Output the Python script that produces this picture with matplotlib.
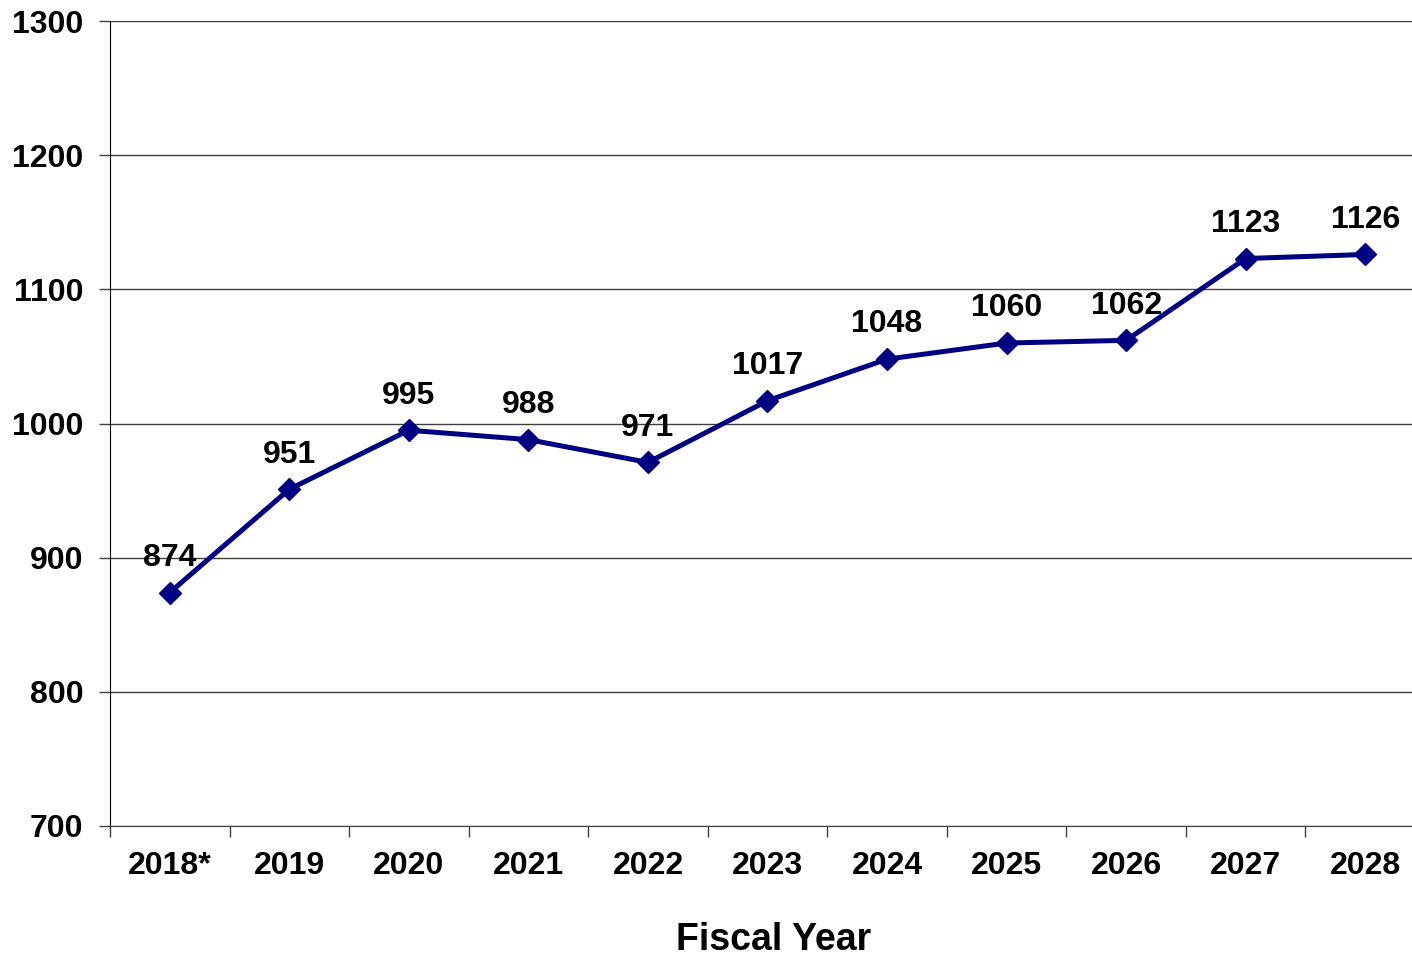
import matplotlib.pyplot as plt

years = ['2018*', '2019', '2020', '2021', '2022', '2023', '2024', '2025', '2026', '2027', '2028']
values = [874, 951, 995, 988, 971, 1017, 1048, 1060, 1062, 1123, 1126]

LINE_COLOR = '#000080'
GRID_COLOR = '#404040'

plt.rcParams['font.family'] = ['Liberation Sans', 'DejaVu Sans']
plt.rcParams['font.weight'] = 'bold'

fig = plt.figure(figsize=(14.12, 9.57), dpi=100)
ax = fig.add_axes([0.0779, 0.1369, 0.9313, 0.8411])

x = list(range(len(years)))
ax.plot(x, values, color=LINE_COLOR, linewidth=3.6, marker='D', markersize=11, zorder=3)

for xi, v in zip(x, values):
    ax.annotate(str(v), (xi, v), xytext=(0, 25), textcoords='offset points',
                ha='center', va='center', fontsize=23, fontweight='bold')

ax.set_xlim(-0.5, len(years) - 0.5)
ax.set_ylim(700, 1300)
ax.set_yticks(range(700, 1301, 100))
ax.set_xticks(x)
ax.set_xticklabels(years)
ax.set_xticks([i - 0.5 for i in range(len(years) + 1)], minor=True)

ax.tick_params(axis='x', which='major', length=0, pad=18, labelsize=23)
ax.tick_params(axis='x', which='minor', length=8, width=1, color=GRID_COLOR)
ax.tick_params(axis='y', length=8, width=1, color=GRID_COLOR, pad=11, labelsize=23)

ax.yaxis.grid(True, color=GRID_COLOR, linewidth=1)
ax.set_axisbelow(True)

for side in ['top', 'right']:
    ax.spines[side].set_visible(False)
ax.spines['left'].set_color('black')
ax.spines['bottom'].set_color(GRID_COLOR)

ax.set_xlabel('Fiscal Year', fontsize=27, fontweight='bold')
ax.xaxis.set_label_coords(0.505, -0.119)

fig.savefig('out.png', dpi=100)
